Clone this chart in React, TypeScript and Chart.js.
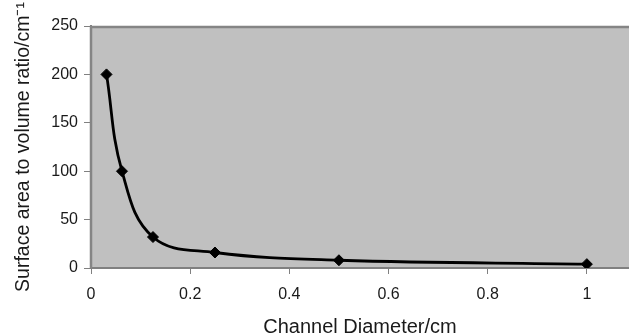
import React, { useEffect, useRef } from "react";
import { Chart, registerables } from "chart.js";

Chart.register(...registerables);

const diameters = [0.03125, 0.0625, 0.125, 0.25, 0.5, 1];
const ratios = [200, 100, 32, 16, 8, 4];
const xTicks = [0, 0.2, 0.4, 0.6, 0.8, 1];
const xTickLabels = ["0", "0.2", "0.4", "0.6", "0.8", "1"];
const yTicks = [0, 50, 100, 150, 200, 250];
const xTitle = "Channel Diameter/cm";
const yTitle = "Surface area to volume ratio/cm\u207B\u00B9";

const FONT = "'Liberation Sans', Arial, sans-serif";

const plotBg = {
  id: "plotBg",
  beforeDraw(chart: any) {
    const { ctx, chartArea: a } = chart;
    ctx.save();
    ctx.fillStyle = "#c0c0c0";
    ctx.fillRect(a.left, a.top, a.right - a.left, a.bottom - a.top);
    ctx.restore();
  },
  beforeDatasetsDraw(chart: any) {
    const { ctx, chartArea: a } = chart;
    ctx.save();
    ctx.strokeStyle = "#858585";
    ctx.lineWidth = 2.5;
    ctx.beginPath();
    ctx.moveTo(a.right + 2, a.top + 1);
    ctx.lineTo(a.left, a.top + 1);
    ctx.lineTo(a.left, a.bottom);
    ctx.stroke();
    ctx.restore();
  },
};

export default function App() {
  const ref = useRef<HTMLCanvasElement>(null);
  useEffect(() => {
    const chart = new Chart(ref.current!, {
      type: "line",
      data: {
        datasets: [
          {
            data: diameters.map((d, i) => ({ x: d, y: ratios[i] })),
            borderColor: "#000",
            backgroundColor: "#000",
            borderWidth: 2.8,
            tension: 0.4,
            pointStyle: "rectRot",
            pointRadius: 5.5,
            pointBorderWidth: 1,
          },
        ],
      },
      options: {
        animation: false,
        responsive: true,
        maintainAspectRatio: false,
        layout: { autoPadding: false, padding: { top: 26, left: 0, right: 0, bottom: 0 } },
        plugins: { legend: { display: false }, tooltip: { enabled: false } },
        scales: {
          x: {
            type: "linear",
            min: 0,
            max: 1.085,
            afterBuildTicks: (s: any) => {
              s.ticks = xTicks.map((v) => ({ value: v }));
            },
            afterFit: (s: any) => {
              s.height = 67;
              s.paddingLeft = 0;
              s.paddingRight = 0;
            },
            grid: { drawOnChartArea: false, drawTicks: true, tickLength: 6, color: "#808080" },
            border: { display: true, color: "#808080", width: 2 },
            ticks: {
              font: { family: FONT, size: 16 },
              color: "#1a1a1a",
              padding: 11,
              maxRotation: 0,
              autoSkip: false,
              callback: (v: any) => {
                const i = xTicks.indexOf(Number(v));
                return i >= 0 ? xTickLabels[i] : "";
              },
            },
            title: { display: true, text: xTitle, font: { family: FONT, size: 20 }, color: "#1a1a1a", padding: { top: 0, bottom: -4 } },
          },
          y: {
            type: "linear",
            min: 0,
            max: 250,
            afterBuildTicks: (s: any) => {
              s.ticks = yTicks.map((v) => ({ value: v }));
            },
            afterFit: (s: any) => {
              s.width = 91;
            },
            grid: { drawOnChartArea: false, drawTicks: true, tickLength: 7, color: "#808080" },
            border: { display: true, color: "#808080", width: 2 },
            ticks: { font: { family: FONT, size: 16 }, color: "#1a1a1a", padding: 6 },
            title: { display: true, text: yTitle, font: { family: FONT, size: 19.5 }, color: "#1a1a1a", padding: { top: 12, bottom: 0 } },
          },
        },
      },
      plugins: [plotBg],
    });
    return () => chart.destroy();
  }, []);
  return (
    <div style={{ position: "absolute", left: 0, top: 0, width: 629, height: 335 }}>
      <canvas ref={ref} />
    </div>
  );
}
